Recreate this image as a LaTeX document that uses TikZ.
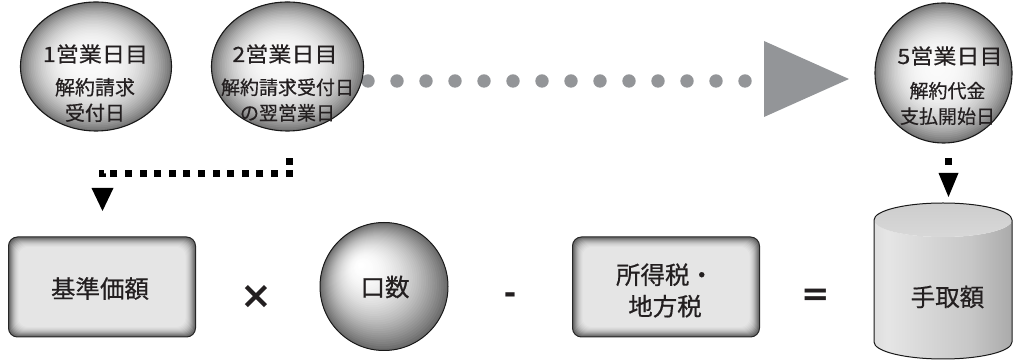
\documentclass[tikz,border=0pt]{standalone}
\usepackage{fontspec}
\setmainfont{Noto Sans CJK JP}[FakeBold=0.5]
\newfontfamily\symfont{DejaVu Sans}
\usetikzlibrary{shapes.geometric,calc}
\definecolor{txt}{HTML}{231F20}
\definecolor{dotg}{HTML}{939598}
\pgfdeclarehorizontalshading{cylsh}{100bp}{color(0bp)=(black!27); color(30bp)=(black!10); color(60bp)=(black!22); color(100bp)=(black!52)}
\pgfdeclareverticalshading{topsh}{100bp}{color(0bp)=(black!13); color(100bp)=(black!22)}
\begin{document}
\begin{tikzpicture}[x=1pt,y=1pt,
  glow/.style n args={7}{path picture={
    \foreach \i in {0,...,39}{
      \pgfmathsetmacro\f{1-\i/40}
      \pgfmathsetmacro\shd{#5+#6*(\f)^(#7)}
      \fill[black!\shd] ($(path picture bounding box.center)+({(1-\f)*(#3)},{(1-\f)*(#4)})$)
        ellipse [x radius={\f*(#1)}, y radius={\f*(#2)}];
    }}},
  ell/.style={ellipse, draw=black!90, line width=1.1pt, fill=black!54, inner sep=0pt},
  lab/.style={text=txt, inner sep=0pt, align=center},
  hd/.style={lab, font=\fontsize{21}{25}\selectfont\addfontfeature{FakeStretch=1.1}},
  sub/.style={lab, font=\fontsize{20}{25.5}\selectfont},
  subs/.style={lab, font=\fontsize{19}{25.5}\selectfont},
  bt/.style={lab, font=\fontsize{24.5}{31.5}\selectfont},
  sym/.style={text=txt, inner sep=0pt, anchor=base},
  boxst/.style={rectangle, rounded corners=9pt, draw=black!85, line width=1pt,
    minimum width=187pt, minimum height=100pt, fill=black!60, inner sep=0pt,
    path picture={
      \foreach \i/\c in {1/55,2/47,3/40,4/33,5/27,6/22,7/18,8/15,9/12,10/10}{
        \fill[black!\c, rounded corners=9pt]
          ([xshift=\i pt,yshift=-\i pt]path picture bounding box.north west)
          rectangle ([xshift=-\i pt,yshift=\i pt]path picture bounding box.south east);}}},
  sqconn/.style={line width=7pt, draw=black, line cap=butt, line join=miter},
  tipst/.style={fill=black}
]
\useasboundingbox (0,0) rectangle (1013,361);

% timeline dots and big triangle
\coordinate (t0) at (368,280);
\foreach \k in {0,...,13} \fill[dotg] ($(t0)+(29*\k,0)$) circle (6.7);
\coordinate (ta) at (764,320);
\coordinate (tb) at (764,244);
\coordinate (tc) at (849,282);
\fill[dotg] (ta) -- (tb) -- (tc) -- cycle;

% top ellipses
\node[ell, glow={75.5}{64.5}{-8}{6}{2}{52}{3}, minimum width=151pt, minimum height=129pt] (e1) at (96,294.5) {};
\node[ell, glow={76}{64.5}{-8}{6}{2}{52}{3}, minimum width=152pt, minimum height=129pt] (e2) at (287.5,294.5) {};
\node[ell, glow={68.5}{70}{-7}{6}{2}{52}{3}, minimum width=137pt, minimum height=140pt] (e3) at (943.5,288) {};

\node[hd] (e1h) at (95.5,307) {1営業日目};
\node[sub] (e1s) at (95,261) {解約請求\\受付日};
\node[hd] (e2h) at (285,307) {2営業日目};
\node[subs] (e2s) at (287.5,261) {解約請求受付日\\の翌営業日};
\node[hd] (e3h) at (950,305) {5営業日目};
\node[subs] (e3s) at (947.5,257.5) {解約代金\\支払開始日};

% left connector
\coordinate (c1) at (289,202.5);
\coordinate (c2) at (102.5,187);
\coordinate (c3) at (102.5,173);
\draw[sqconn, dash pattern=on 7pt off 5pt on 7pt off 7.6pt
  on 7pt off 7.6pt on 7pt off 7.6pt on 7pt off 7.6pt on 7pt off 7.6pt
  on 7pt off 7.6pt on 7pt off 7.6pt on 7pt off 7.6pt on 7pt off 7.6pt
  on 7pt off 7.6pt on 7pt off 7.6pt on 7pt off 7.6pt on 7pt off 7.6pt
  on 3.7pt off 60pt] (c1) |- (c2) -- (c3);
\fill[tipst] ($(c3)+(-11,0)$) -- ($(c3)+(11,0)$) -- ($(c3)+(0,-23)$) -- cycle;

% right connector
\coordinate (d1) at (948.5,203);
\coordinate (d2) at (948.5,188);
\draw[sqconn, dash pattern=on 7.5pt off 30pt] (d1) -- (d2);
\fill[tipst] ($(d2)+(-10,0)$) -- ($(d2)+(10,0)$) -- ($(d2)+(0,-24)$) -- cycle;

% bottom row
\node[boxst] (b1) at (102,74) {};
\node[bt] (b1t) at (100,72.5) {基準価額};

\node[sym, font=\symfont\bfseries\fontsize{38}{38}\selectfont] (times) at (256.5,52) {×};

\node[circle, draw=black!90, line width=1pt, fill=black!58, glow={64}{64}{-24}{22}{0}{58}{2}, minimum size=128pt, inner sep=0pt] (ball) at (384,74.5) {};
\node[bt] (ballt) at (385,74) {口数};

\node[sym, font=\symfont\bfseries\fontsize{30}{30}\selectfont] (minus) at (510,57.5) {-};

\node[boxst] (b2) at (666,74) {};
\node[bt] (b2t) at (665,70.5) {所得税・\\地方税};

\node[sym, font=\symfont\bfseries\fontsize{34}{34}\selectfont] (eq) at (816,55.5) {=};

% cylinder
\shade[shading=cylsh] (874,141) -- (874,19) arc[start angle=180,end angle=360,x radius=69,y radius=17]
  -- (1012,141) arc[start angle=0,end angle=-180,x radius=69,y radius=17] -- cycle;
\shade[shading=topsh] (943,141) ellipse [x radius=69, y radius=17];
\draw[line width=1pt, black!90] (874,141) -- (874,19) arc[start angle=180,end angle=360,x radius=69,y radius=17]
  -- (1012,141) arc[start angle=0,end angle=180,x radius=69,y radius=17] -- cycle;
\node[bt] (cylt) at (947.5,64) {手取額};
\end{tikzpicture}
\end{document}
